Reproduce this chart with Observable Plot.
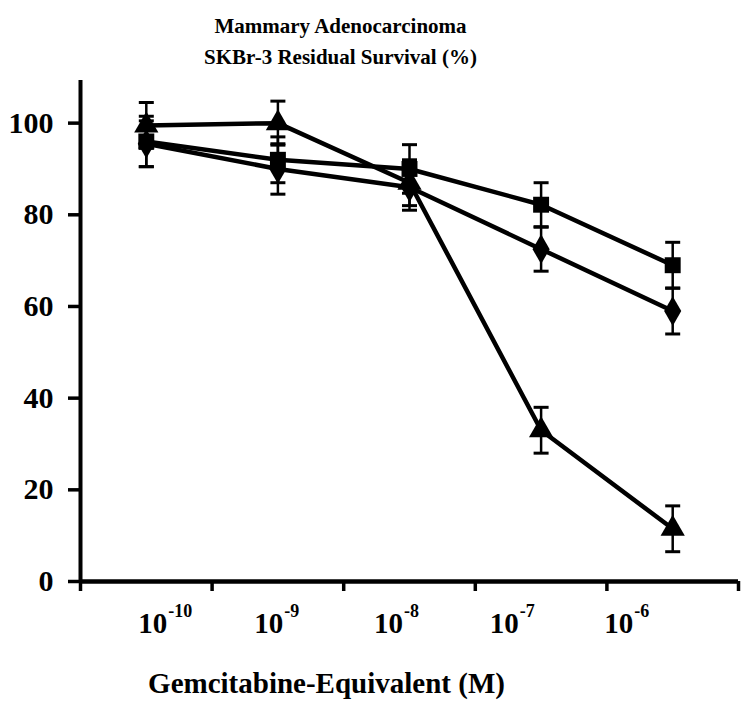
<!DOCTYPE html>
<html>
<head>
<meta charset="utf-8">
<script src="https://cdn.jsdelivr.net/npm/d3@7"></script>
<script src="https://cdn.jsdelivr.net/npm/@observablehq/plot@0.6"></script>
<style>
  html, body { margin: 0; padding: 0; background: #fff; }
</style>
</head>
<body>
<div id="chart"></div>
<script>
// ---- data ----
const titleLines = ["Mammary Adenocarcinoma", "SKBr-3 Residual Survival (%)"];
const xTitle = "Gemcitabine-Equivalent (M)";
const categories = [0, 1, 2, 3, 4];           // five dose groups (category index)
const seriesNames = ["triangle", "square", "diamond"];
const triangleValues = [99.5, 100, 87, 33, 11.5];
const triangleErr    = [5, 4.8, 5, 5, 5];
const squareValues   = [96, 92, 90, 82.2, 69];
const squareErr      = [5.5, 5, 5.3, 4.8, 5];
const diamondValues  = [95.5, 90, 86, 72.5, 59];
const diamondErr     = [5, 5.5, 5, 4.8, 5];
const tickLabelBase = ["10", "10", "10", "10", "10"];
const tickLabelExp  = ["-10", "-9", "-8", "-7", "-6"];
const tickLabelAt   = [0.66, 1.54, 2.45, 3.33, 4.20]; // in category-axis units
const yTicks = [0, 20, 40, 60, 80, 100];

// ---- build table ----
const valuesBy = {triangle: triangleValues, square: squareValues, diamond: diamondValues};
const errBy = {triangle: triangleErr, square: squareErr, diamond: diamondErr};
const data = seriesNames.flatMap(s => categories.map((c, i) => ({
  series: s, x: c + 0.5, y: valuesBy[s][i],
  lo: valuesBy[s][i] - errBy[s][i], hi: valuesBy[s][i] + errBy[s][i]
})));
const labels = tickLabelAt.map((x, i) => ({x, base: tickLabelBase[i], exp: tickLabelExp[i]}));

const cap = {draw(ctx) { ctx.moveTo(-7.5, 0); ctx.lineTo(7.5, 0); }};
const font = "'Liberation Serif', 'Times New Roman', serif";

const chart = Plot.plot({
  width: 750,
  height: 709,
  marginTop: 80,
  marginBottom: 128,
  marginLeft: 80,
  marginRight: 12,
  style: {fontFamily: font, fontWeight: "bold", fontSize: "28px", color: "#000", background: "#fff"},
  x: {type: "linear", domain: [0, 5], axis: null},
  y: {domain: [0, 109.3], axis: null},
  symbol: {domain: seriesNames, range: ["triangle2", "square", "diamond2"]},
  marks: [
    // axes
    Plot.axisY({ticks: yTicks, tickSize: 12, strokeWidth: 3.5, tickFormat: () => "", label: null}),
    Plot.text(yTicks, {y: d => d, text: d => String(d), frameAnchor: "left", textAnchor: "end", dx: -27, fontSize: 30, fontWeight: "bold"}),
    Plot.axisX({ticks: [0, 1, 2, 3, 4, 5], tickSize: 10, strokeWidth: 3.5, tickFormat: () => "", label: null}),
    Plot.ruleX([0], {y1: 0, y2: 109.3, strokeWidth: 4}),
    Plot.ruleY([0], {x1: 0, x2: 5, strokeWidth: 4.5}),
    // x tick labels with superscripts
    Plot.text(labels, {x: "x", y: 0, text: "base", textAnchor: "end", dy: 42, fontSize: 29, fontWeight: "bold"}),
    Plot.text(labels, {x: "x", y: 0, text: "exp", textAnchor: "start", dy: 30, dx: 1, fontSize: 18, fontWeight: "bold"}),
    // error bars
    Plot.ruleX(data, {x: "x", y1: "lo", y2: "hi", stroke: "black", strokeWidth: 2.5}),
    Plot.dot(data, {x: "x", y: "lo", symbol: () => cap, r: 4, stroke: "black", strokeWidth: 3}),
    Plot.dot(data, {x: "x", y: "hi", symbol: () => cap, r: 4, stroke: "black", strokeWidth: 3}),
    // lines
    Plot.line(data, {x: "x", y: "y", z: "series", stroke: "black", strokeWidth: 4.5, strokeLinejoin: "round"}),
    // markers
    Plot.dot(data, {x: "x", y: "y", symbol: "series", fill: "black", stroke: "none", r: 9}),
    // title
    Plot.text([titleLines.join("\n")], {frameAnchor: "top", dx: -69, dy: -70, lineAnchor: "top", lineHeight: 1.5, fontSize: 21, fontWeight: "bold"}),
    // x axis title
    Plot.text([xTitle], {frameAnchor: "bottom", dx: -83, dy: 102, lineAnchor: "middle", fontSize: 29, fontWeight: "bold"})
  ]
});
document.getElementById("chart").appendChild(chart);
</script>
</body>
</html>
